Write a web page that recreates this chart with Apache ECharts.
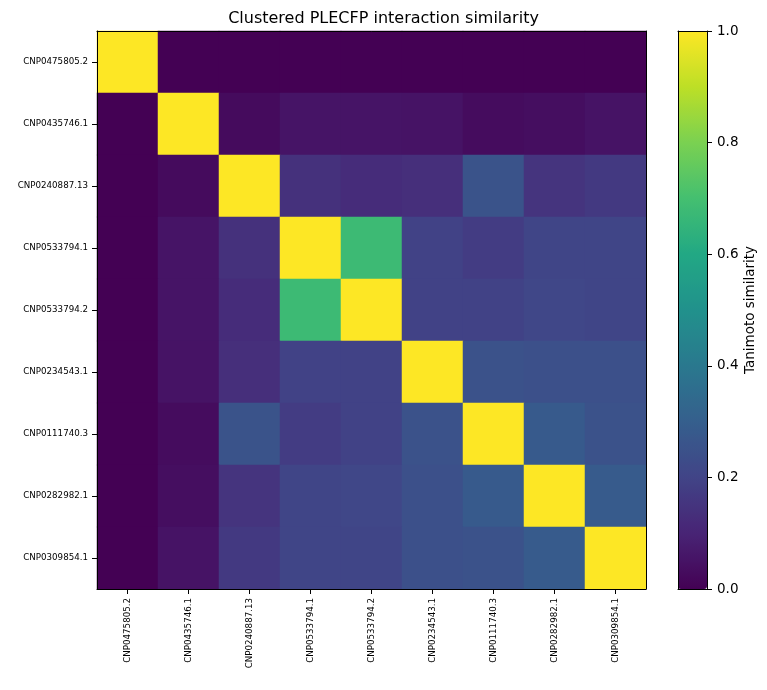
<!DOCTYPE html>
<html><head><meta charset="utf-8">
<script src="https://cdn.jsdelivr.net/npm/echarts@6/dist/echarts.min.js"></script>
<style>html,body{margin:0;padding:0;background:#fff}#c{width:767px;height:690px}</style>
</head><body><div id="c"></div>
<script>
const labels = ["CNP0475805.2","CNP0435746.1","CNP0240887.13","CNP0533794.1","CNP0533794.2","CNP0234543.1","CNP0111740.3","CNP0282982.1","CNP0309854.1"];
const row0 = [1.0, 0.0, 0.0, 0.0, 0.0, 0.0, 0.0, 0.0, 0.0];
const row1 = [0.0, 1.0, 0.028, 0.055, 0.055, 0.05, 0.03, 0.037, 0.05];
const row2 = [0.0, 0.028, 1.0, 0.14, 0.125, 0.135, 0.255, 0.15, 0.165];
const row3 = [0.0, 0.055, 0.14, 1.0, 0.68, 0.195, 0.175, 0.205, 0.205];
const row4 = [0.0, 0.055, 0.125, 0.68, 1.0, 0.195, 0.195, 0.21, 0.205];
const row5 = [0.0, 0.05, 0.135, 0.195, 0.195, 1.0, 0.25, 0.245, 0.245];
const row6 = [0.0, 0.03, 0.255, 0.175, 0.195, 0.25, 1.0, 0.28, 0.25];
const row7 = [0.0, 0.037, 0.15, 0.205, 0.21, 0.245, 0.28, 1.0, 0.285];
const row8 = [0.0, 0.05, 0.165, 0.205, 0.205, 0.245, 0.25, 0.285, 1.0];
const rows = [row0,row1,row2,row3,row4,row5,row6,row7,row8];
const cbTicks = [0, 0.2, 0.4, 0.6, 0.8, 1.0];
const viridis = ['#440154','#482475','#414487','#355f8d','#2a788e','#21918c','#22a884','#44bf70','#7ad151','#bddf26','#fde725'];

const data = [];
rows.forEach((r, yi) => r.forEach((v, xi) => data.push([xi, yi, v])));

const font = 'DejaVu Sans';
const chart = echarts.init(document.getElementById('c'), null, {renderer: 'canvas'});
const lineBlack = {show: true, onZero: false, lineStyle: {color: '#000', width: 1}};
const PL = 97, PT = 31, PW = 549, PH = 558;
chart.setOption({
  animation: false,
  backgroundColor: '#fff',
  title: {text: 'Clustered PLECFP interaction similarity', left: 'center', top: 6,
    textStyle: {fontFamily: font, fontSize: 16, fontWeight: 'normal', color: '#000'}},
  grid: [
    {left: PL, top: PT, width: PW, height: PH},
    {left: 678, top: PT, width: 29, height: PH}
  ],
  xAxis: [
    {type: 'category', data: labels, gridIndex: 0, position: 'bottom', z: 10,
      axisLine: lineBlack, axisTick: {show: true, alignWithLabel: true, length: 5, lineStyle: {color: '#000'}},
      axisLabel: {rotate: 90, interval: 0, fontFamily: font, fontSize: 8.7, color: '#000', margin: 9},
      splitLine: {show: false}},
    {type: 'category', data: labels, gridIndex: 0, position: 'top', z: 10,
      axisLine: lineBlack, axisTick: {show: false}, axisLabel: {show: false}},
    {type: 'value', gridIndex: 1, min: 0, max: 1, position: 'bottom', z: 10,
      axisLine: lineBlack, axisTick: {show: false}, axisLabel: {show: false}, splitLine: {show: false}},
    {type: 'value', gridIndex: 1, min: 0, max: 1, position: 'top', z: 10,
      axisLine: lineBlack, axisTick: {show: false}, axisLabel: {show: false}, splitLine: {show: false}}
  ],
  yAxis: [
    {type: 'category', data: labels, gridIndex: 0, inverse: true, position: 'left', z: 10,
      axisLine: lineBlack, axisTick: {show: true, alignWithLabel: true, length: 5, lineStyle: {color: '#000'}},
      axisLabel: {interval: 0, fontFamily: font, fontSize: 8.7, color: '#000', margin: 9}},
    {type: 'category', data: labels, gridIndex: 0, inverse: true, position: 'right', z: 10,
      axisLine: lineBlack, axisTick: {show: false}, axisLabel: {show: false}},
    {type: 'value', gridIndex: 1, min: 0, max: 1, interval: 0.2, position: 'right', z: 10,
      axisLine: lineBlack, axisTick: {show: true, length: 5, lineStyle: {color: '#000'}},
      axisLabel: {fontFamily: font, fontSize: 13.5, color: '#000', margin: 10,
        formatter: v => (cbTicks.some(t => Math.abs(t - v) < 1e-9) ? v.toFixed(1) : '')},
      splitLine: {show: false},
      name: 'Tanimoto similarity', nameLocation: 'middle', nameGap: 36, nameRotate: 90,
      nameTextStyle: {fontFamily: font, fontSize: 13.5, color: '#000'}},
    {type: 'value', gridIndex: 1, min: 0, max: 1, position: 'left', z: 10,
      axisLine: lineBlack, axisTick: {show: false}, axisLabel: {show: false}, splitLine: {show: false}}
  ],
  visualMap: {
    type: 'continuous', min: 0, max: 1, calculable: false, realtime: false,
    left: 678, top: PT, itemWidth: 29, itemHeight: PH, padding: 0,
    text: null, showLabel: false, hoverLink: false, seriesIndex: 0, z: 1,
    inRange: {color: viridis}
  },
  series: [{
    type: 'heatmap', xAxisIndex: 0, yAxisIndex: 0, data: data,
    itemStyle: {borderWidth: 0}, emphasis: {disabled: true}, progressive: 0
  }]
});
</script></body></html>
